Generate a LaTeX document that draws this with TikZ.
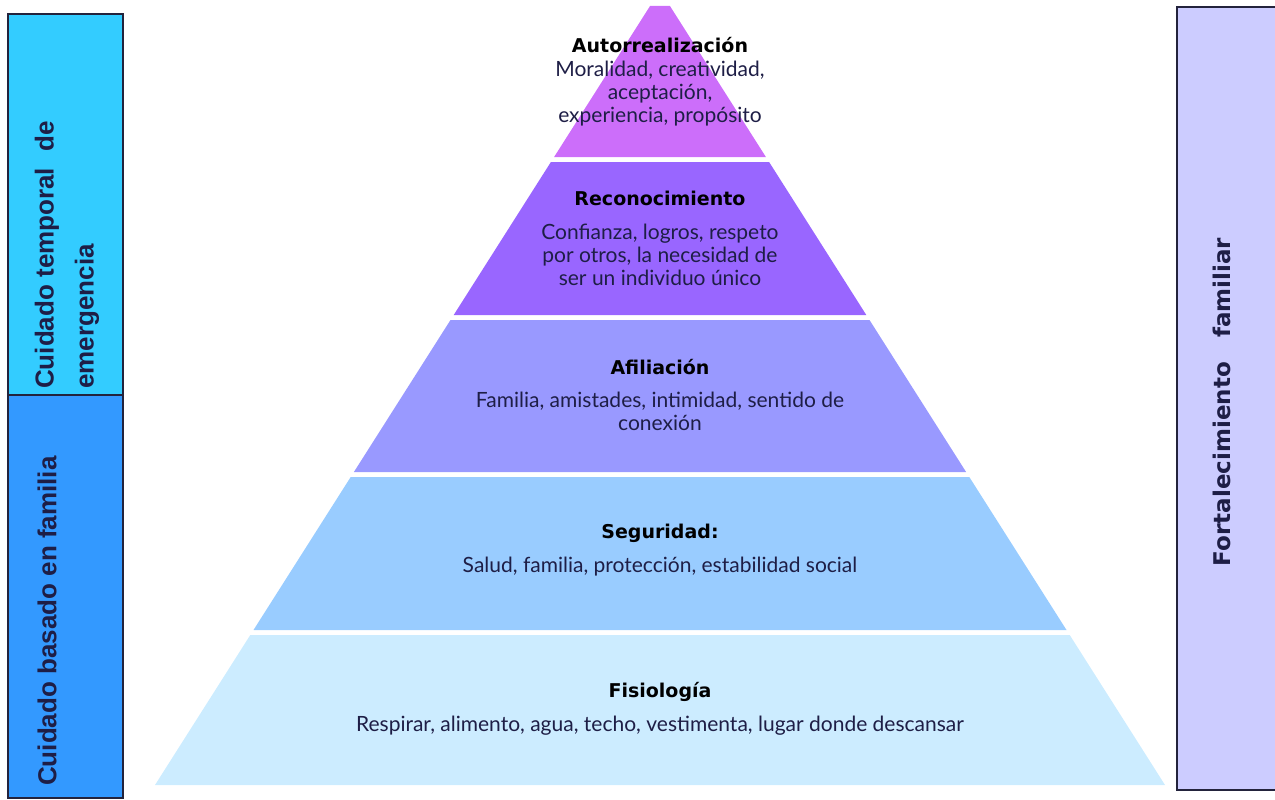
\documentclass[tikz,border=0pt]{standalone}
\usepackage{fontspec}
\newfontfamily\bodyfont{Lato}
\newfontfamily\titlefont{DejaVu Sans}
\newfontfamily\sidefont{Liberation Sans}
\definecolor{lone}{RGB}{204,110,250}
\definecolor{ltwo}{RGB}{153,102,255}
\definecolor{lthree}{RGB}{153,153,255}
\definecolor{lfour}{RGB}{153,204,255}
\definecolor{lfive}{RGB}{204,236,255}
\definecolor{ctop}{RGB}{51,204,255}
\definecolor{cbot}{RGB}{51,153,255}
\definecolor{cright}{RGB}{204,204,255}
\definecolor{edge}{RGB}{35,35,60}
\definecolor{ink}{RGB}{30,30,70}
\tikzset{
  sidebox/.style={draw=edge, line width=1.5pt},
  ttl/.style={font=\titlefont\bfseries\fontsize{19}{23}\selectfont, text=black, inner sep=0pt},
  bdy/.style={font=\bodyfont\fontsize{21}{23}\selectfont, text=ink, align=center, inner sep=0pt},
  side/.style={font=\sidefont\bfseries\fontsize{26}{40}\selectfont, text=ink, rotate=90, align=left, inner sep=0pt},
}
\begin{document}
\begin{tikzpicture}[x=1pt,y=1pt]
\useasboundingbox (0,0) rectangle (1275,-800);
% pyramid layers
\fill[lone]   (650.05,-6) -- (669.95,-6) -- (765.9,-157) -- (554.1,-157) -- cycle;
\fill[ltwo]   (550.9,-162) -- (769.1,-162) -- (866.3,-315) -- (453.7,-315) -- cycle;
\fill[lthree] (450.5,-320) -- (869.5,-320) -- (966.1,-472) -- (353.9,-472) -- cycle;
\fill[lfour]  (350.7,-477) -- (969.3,-477) -- (1066.5,-630) -- (253.5,-630) -- cycle;
\fill[lfive]  (250.3,-635) -- (1069.7,-635) -- (1165,-785) -- (155,-785) -- cycle;
% side boxes
\draw[sidebox, fill=ctop]   (8,-14) rectangle (123,-395);
\draw[sidebox, fill=cbot]   (8,-395) rectangle (123,-798);
\draw[sidebox, fill=cright] (1177,-7) rectangle (1285,-790);
% side labels
\node[side, anchor=west] (lt) at (67,-389) {Cuidado temporal\hspace{9pt} de\\emergencia};
\node[side, anchor=west] (lb) at (47,-786) {Cuidado basado en familia};
\node[side, font=\titlefont\bfseries\fontsize{23}{26}\selectfont] (rt) at (1222,-402) {Fortalecimiento\hspace{16pt} familiar};
% layer texts
\node[ttl] (t1) at (660,-45) {Autorrealización};
\node[bdy] (b1) at (660,-94) {Moralidad, creatividad,\\aceptación,\\experiencia, propósito};
\node[ttl] (t2) at (660,-198) {Reconocimiento};
\node[bdy] (b2) at (660,-255) {Confianza, logros, respeto\\por otros, la necesidad de\\ser un individuo único};
\node[ttl] (t3) at (660,-367) {Afiliación};
\node[bdy] (b3) at (660,-411) {Familia, amistades, intimidad, sentido de\\conexión};
\node[ttl] (t4) at (660,-533) {Seguridad:};
\node[bdy] (b4) at (660,-567) {Salud, familia, protección, estabilidad social};
\node[ttl] (t5) at (660,-692) {Fisiología};
\node[bdy] (b5) at (660,-726) {Respirar, alimento, agua, techo, vestimenta, lugar donde descansar};
\end{tikzpicture}
\end{document}
